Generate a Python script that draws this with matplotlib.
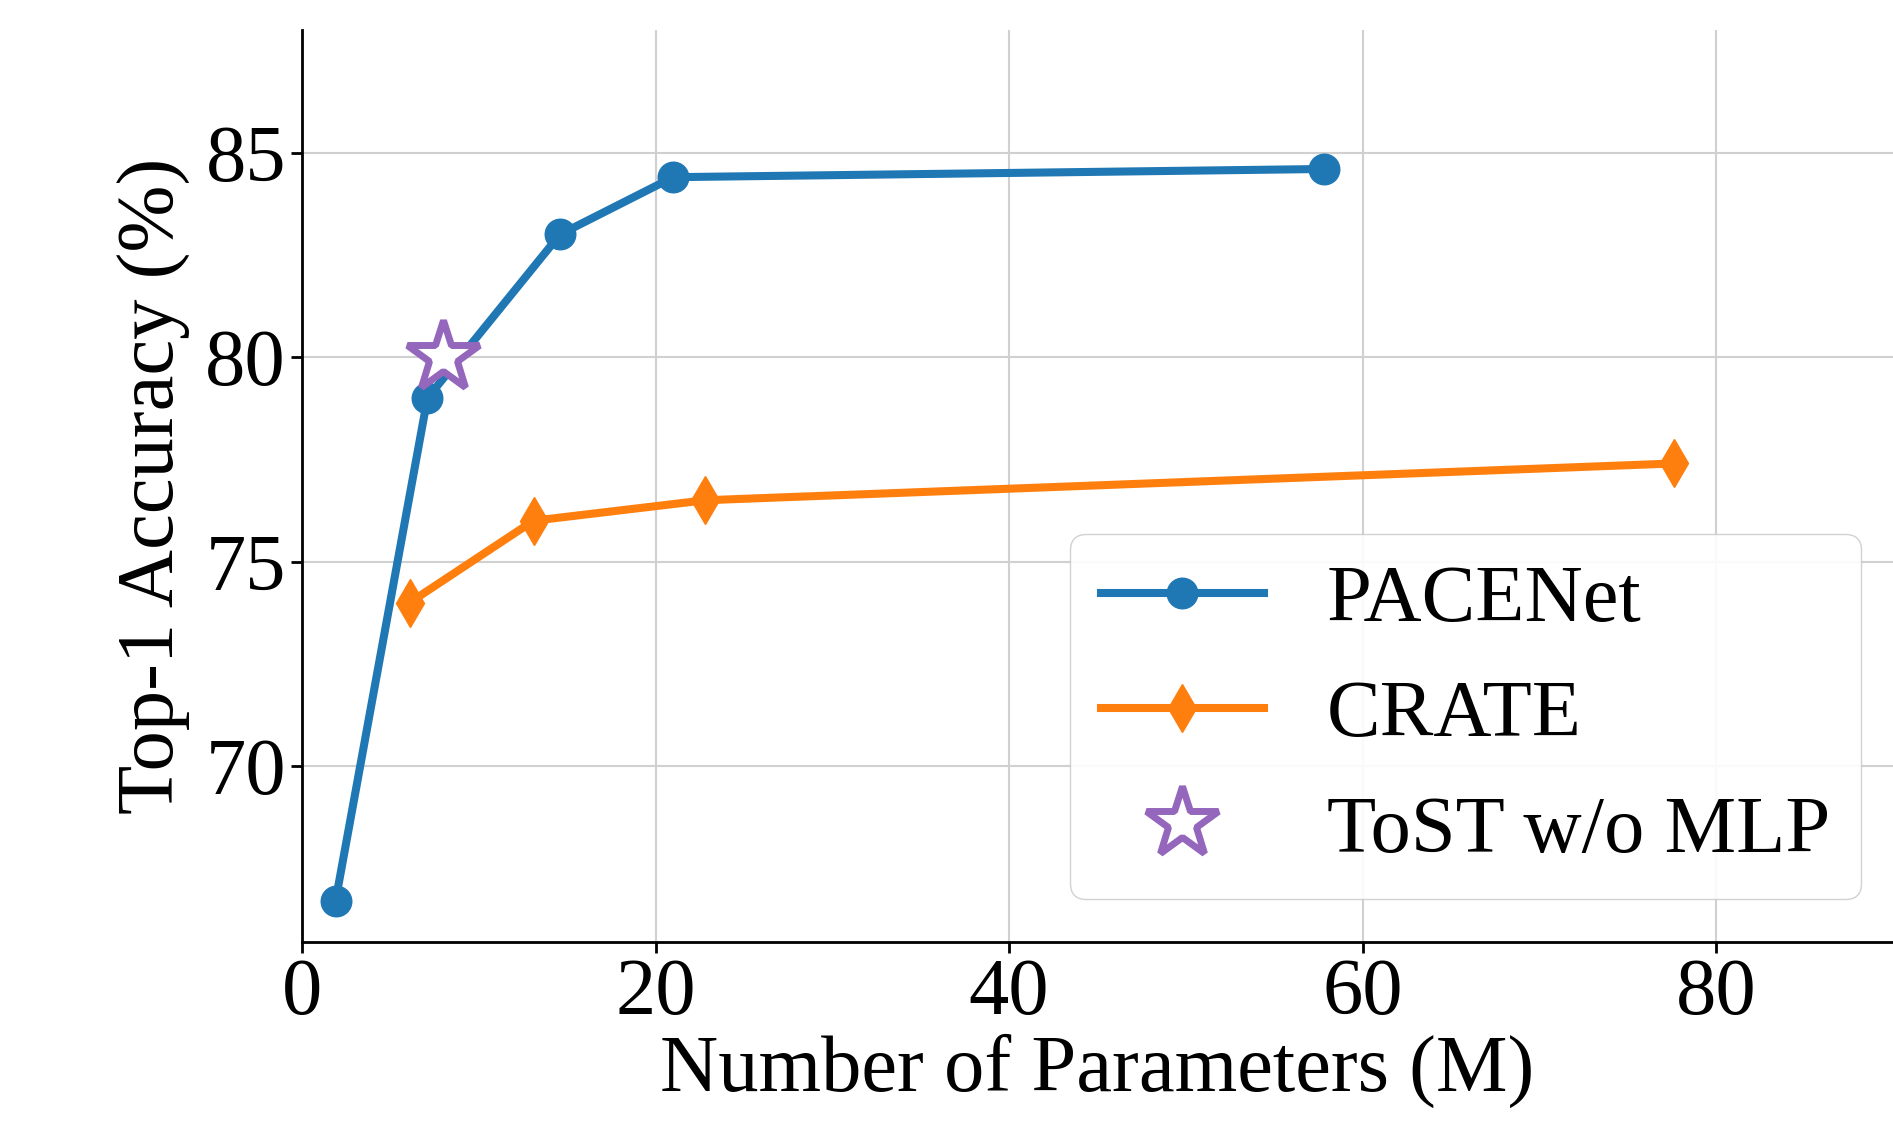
import matplotlib
matplotlib.use("Agg")
import matplotlib.pyplot as plt

# ====== data ======
pace_params = [1.9, 7.1, 14.6, 21.0, 57.8]
pace_acc = [66.7, 79.0, 83.0, 84.4, 84.6]

crate_params = [6.1, 13.1, 22.8, 77.6]
crate_acc = [74.0, 76.0, 76.5, 77.4]

tost_params = [8.0]
tost_acc = [80.0]

xticks = [0, 20, 40, 60, 80]
yticks = [70, 75, 80, 85]

plt.rcParams["font.family"] = ["Liberation Serif", "DejaVu Serif"]

FS = 58

fig = plt.figure(figsize=(18.93, 11.30), dpi=100)
ax = fig.add_axes([0.1595, 0.1664, 0.8405, 0.8071])

ax.plot(pace_params, pace_acc, color="#1f77b4", marker="o", lw=5.8, ms=22,
        label="PACENet", zorder=3)
ax.plot(crate_params, crate_acc, color="#ff7f0e", marker="d", lw=5.8, ms=24,
        label="CRATE", zorder=3)
ax.plot(tost_params, tost_acc, ls="none", marker="*", ms=54, mfc="white",
        mec="#9467bd", mew=5, label="ToST w/o MLP", zorder=4)

ax.set_xlim(0, 90)
ax.set_ylim(65.7, 88.0)
ax.set_xticks(xticks)
ax.set_yticks(yticks)
ax.tick_params(labelsize=FS, width=2, length=8)
ax.set_xlabel("Number of Parameters (M)", fontsize=FS, labelpad=2)
ax.set_ylabel("Top-1 Accuracy (%)", fontsize=FS, labelpad=10)

ax.grid(True, color="#d0d0d0", lw=1.5)
ax.set_axisbelow(True)
for s in ["top", "right"]:
    ax.spines[s].set_visible(False)
for s in ["left", "bottom"]:
    ax.spines[s].set_linewidth(2)

ax.legend(loc="lower right", bbox_to_anchor=(1.0, 0.0115), fontsize=FS,
          handlelength=2.03, borderpad=0.38, labelspacing=0.52,
          handletextpad=0.78, borderaxespad=0.4,
          framealpha=0.9, edgecolor="#cccccc")

fig.savefig("out.png", dpi=100)
